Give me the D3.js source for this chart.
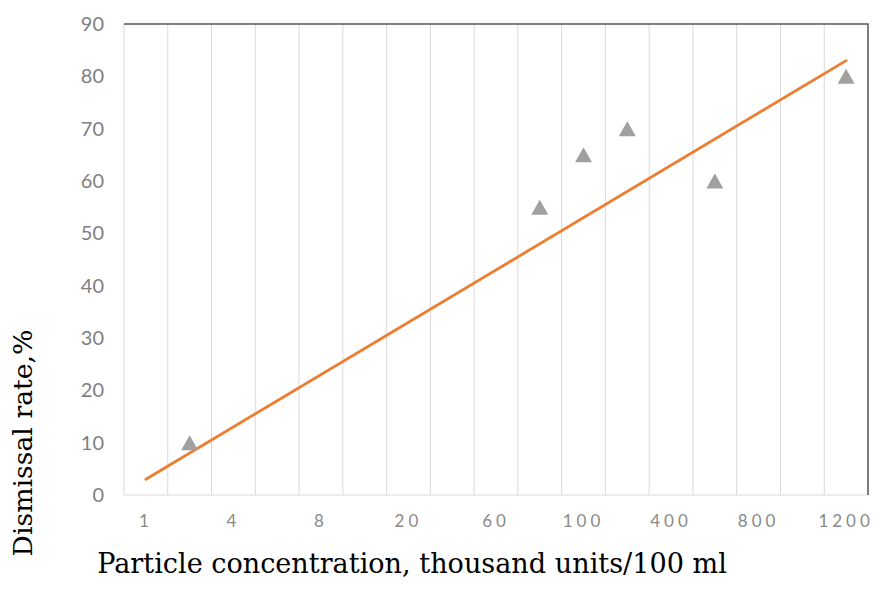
<!DOCTYPE html>
<html>
<head>
<meta charset="utf-8">
<script src="https://cdn.jsdelivr.net/npm/d3@7"></script>
<style>
  html, body { margin: 0; padding: 0; background: #fff; }
  #app { width: 894px; height: 589px; }
</style>
</head>
<body>
<div id="app"></div>
<script>
// --- data ---
const slotCount = 17;                         // equal-width category slots on x
const xTickSlots = [1, 3, 5, 7, 9, 11, 13, 15, 17];
const xTickLabels = ["1", "4", "8", "20", "60", "100", "400", "800", "1200"];
const yTicks = [0, 10, 20, 30, 40, 50, 60, 70, 80, 90];

const pointSlots = [2, 10, 11, 12, 14, 17];
const pointValues = [10, 55, 65, 70, 60, 80];

const trendSlots = [1, 17];
const trendValues = [3, 83];

const xTitle = "Particle concentration, thousand units/100 ml";
const yTitle = "Dismissal rate,%";

// --- layout ---
const width = 894, height = 589;
const plot = { left: 124, right: 868, top: 24, bottom: 495 };

const svg = d3.select("#app").append("svg")
  .attr("width", width)
  .attr("height", height)
  .attr("viewBox", `0 0 ${width} ${height}`);

const slots = d3.range(1, slotCount + 1);
const x = d3.scaleBand().domain(slots).range([plot.left, plot.right]).padding(0);
const y = d3.scaleLinear().domain([0, 90]).range([plot.bottom, plot.top]);
const cx = s => x(s) + x.bandwidth() / 2;

// vertical gridlines at slot edges
const edges = slots.map(s => x(s)).concat([plot.right]);
svg.append("g").selectAll("line")
  .data(edges)
  .join("line")
  .attr("x1", d => d).attr("x2", d => d)
  .attr("y1", plot.top).attr("y2", plot.bottom)
  .attr("stroke", "#d9d9d9")
  .attr("stroke-width", 1);

// bottom edge light, top/right dark frame
svg.append("line")
  .attr("x1", plot.left).attr("x2", plot.right)
  .attr("y1", plot.bottom).attr("y2", plot.bottom)
  .attr("stroke", "#d9d9d9").attr("stroke-width", 1);
svg.append("path")
  .attr("d", `M${plot.left},${plot.top}H${plot.right}V${plot.bottom}`)
  .attr("fill", "none")
  .attr("stroke", "#595959")
  .attr("stroke-width", 1.5);

// y axis labels
const yAxis = svg.append("g")
  .attr("transform", `translate(${plot.left},0)`)
  .call(d3.axisLeft(y).tickValues(yTicks).tickSize(0).tickPadding(20));
yAxis.select(".domain").remove();
yAxis.selectAll("text")
  .attr("font-family", "Lato, 'Open Sans', sans-serif")
  .attr("font-size", 20)
  .attr("fill", "#7f7f7f");

// x axis labels
const xAxis = svg.append("g")
  .attr("transform", `translate(0,${plot.bottom})`)
  .call(d3.axisBottom(x).tickValues(xTickSlots).tickSize(0).tickPadding(20)
    .tickFormat(s => xTickLabels[xTickSlots.indexOf(s)]));
xAxis.select(".domain").remove();
xAxis.selectAll("text")
  .attr("font-family", "Lato, 'Open Sans', sans-serif")
  .attr("font-size", 17)
  .attr("letter-spacing", "4px")
  .attr("fill", "#8a8a8a");

// trendline
svg.append("path")
  .datum(trendSlots.map((s, i) => [s, trendValues[i]]))
  .attr("d", d3.line().x(d => cx(d[0])).y(d => y(d[1])))
  .attr("fill", "none")
  .attr("stroke", "#ed7d31")
  .attr("stroke-width", 2.8)
  .attr("stroke-linecap", "round");

// triangle markers, centred on their bounding box like the Excel marker
const triW = 17, triH = 15;
svg.append("g").selectAll("path")
  .data(pointSlots.map((s, i) => [s, pointValues[i]]))
  .join("path")
  .attr("transform", d => `translate(${cx(d[0])},${y(d[1])})`)
  .attr("d", `M0,${-triH / 2}L${triW / 2},${triH / 2}L${-triW / 2},${triH / 2}Z`)
  .attr("fill", "#a0a0a0");

// axis titles, sized to the reference text widths
function fitTitle(sel, target) {
  const w = sel.node().getComputedTextLength();
  sel.attr("font-size", 24 * target / w);
}

const xt = svg.append("text")
  .attr("x", 412).attr("y", 573)
  .attr("text-anchor", "middle")
  .attr("font-family", "'DejaVu Serif', serif")
  .attr("font-size", 24)
  .attr("fill", "#000")
  .text(xTitle);
fitTitle(xt, 630);

const yt = svg.append("text")
  .attr("transform", "translate(32,443) rotate(-90)")
  .attr("text-anchor", "middle")
  .attr("font-family", "'DejaVu Serif', serif")
  .attr("font-size", 24)
  .attr("fill", "#000")
  .text(yTitle);
fitTitle(yt, 227);
</script>
</body>
</html>
